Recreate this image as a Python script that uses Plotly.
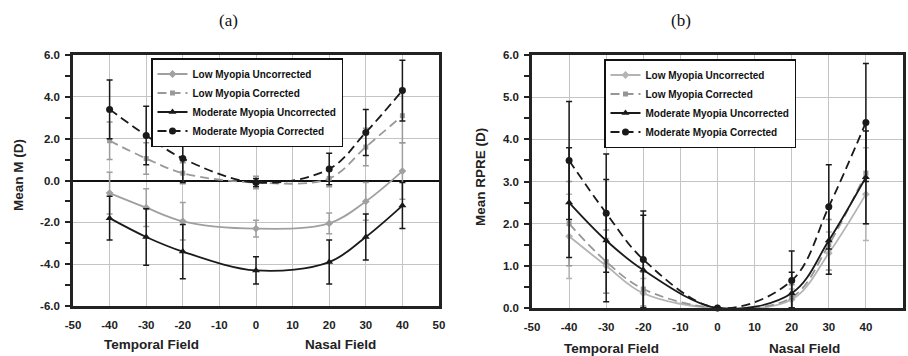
import plotly.graph_objects as go

W, H = 908, 356

# ---------------- data ----------------
angles = [-40, -30, -20, 0, 20, 30, 40]
series_names = ["Low Myopia Uncorrected", "Low Myopia Corrected",
                "Moderate Myopia Uncorrected", "Moderate Myopia Corrected"]

# panel (a): Mean M (D)
a_low_unc = [-0.6, -1.3, -1.95, -2.3, -2.05, -1.0, 0.45]
a_low_unc_err = [1.0, 0.9, 0.9, 0.4, 0.5, 0.9, 1.35]
a_low_cor = [1.9, 1.05, 0.35, -0.1, 0.1, 1.6, 3.1]
a_low_cor_err = [0.9, 0.75, 0.5, 0.3, 0.4, 0.9, 1.3]
a_mod_unc = [-1.8, -2.7, -3.4, -4.3, -3.9, -2.7, -1.2]
a_mod_unc_err = [1.05, 1.35, 1.3, 0.65, 1.05, 1.1, 1.1]
a_mod_cor = [3.4, 2.15, 1.05, -0.1, 0.55, 2.3, 4.3]
a_mod_cor_err = [1.4, 1.4, 1.15, 0.2, 0.75, 1.1, 1.45]

# panel (b): Mean RPRE (D)
b_low_unc = [1.7, 1.0, 0.35, 0.0, 0.2, 1.3, 2.7]
b_low_unc_err = [1.0, 0.65, 0.35, 0.0, 0.25, 0.5, 1.1]
b_low_cor = [2.0, 1.1, 0.45, 0.0, 0.25, 1.5, 3.2]
b_low_cor_err = [1.0, 0.75, 0.4, 0.0, 0.3, 0.6, 1.2]
b_mod_unc = [2.5, 1.6, 0.9, 0.0, 0.35, 1.6, 3.1]
b_mod_unc_err = [1.3, 1.45, 1.3, 0.0, 0.5, 0.8, 1.1]
b_mod_cor = [3.5, 2.25, 1.15, 0.0, 0.65, 2.4, 4.4]
b_mod_cor_err = [1.4, 1.4, 1.15, 0.0, 0.7, 1.0, 1.4]

x_tick_vals = [-50, -40, -30, -20, -10, 0, 10, 20, 30, 40, 50]
x_tick_text = ["-50", "-40", "-30", "-20", "-10", "0", "10", "20", "30", "40", "50"]
a_y_tick_vals = [-6, -4, -2, 0, 2, 4, 6]
a_y_tick_text = ["-6.0", "-4.0", "-2.0", "0.0", "2.0", "4.0", "6.0"]
b_y_tick_vals = [0, 1, 2, 3, 4, 5, 6]
b_y_tick_text = ["0.0", "1.0", "2.0", "3.0", "4.0", "5.0", "6.0"]

# ---------------- styles ----------------
def px(x):
    return x / W

def py(y):
    return 1 - y / H

DASH = "9px,5px"
a_styles = [
    dict(color="#a0a0a0", dash="solid", symbol="diamond", size=6),
    dict(color="#9a9a9a", dash=DASH, symbol="square", size=5),
    dict(color="#1a1a1a", dash="solid", symbol="triangle-up", size=7),
    dict(color="#1a1a1a", dash=DASH, symbol="circle", size=7),
]
b_styles = [
    dict(color="#b4b4b4", dash="solid", symbol="diamond", size=6),
    dict(color="#969696", dash=DASH, symbol="square", size=5),
    dict(color="#1a1a1a", dash="solid", symbol="triangle-up", size=7),
    dict(color="#1a1a1a", dash=DASH, symbol="circle", size=7),
]

fig = go.Figure()

a_sets = [(a_low_unc, a_low_unc_err), (a_low_cor, a_low_cor_err),
          (a_mod_unc, a_mod_unc_err), (a_mod_cor, a_mod_cor_err)]
b_sets = [(b_low_unc, b_low_unc_err), (b_low_cor, b_low_cor_err),
          (b_mod_unc, b_mod_unc_err), (b_mod_cor, b_mod_cor_err)]

for sets, styles, xa, ya, lg in [(a_sets, a_styles, "x", "y", "legend"),
                                 (b_sets, b_styles, "x2", "y2", "legend2")]:
    for name, (vals, errs), st in zip(series_names, sets, styles):
        lower = [min(e, v) if lg == "legend2" else e for v, e in zip(vals, errs)]
        fig.add_trace(go.Scatter(
            x=angles, y=vals, name=name, mode="lines+markers",
            xaxis=xa, yaxis=ya, legend=lg,
            line=dict(color=st["color"], width=1.8, dash=st["dash"],
                      shape="spline", smoothing=1),
            marker=dict(symbol=st["symbol"], size=st["size"], color=st["color"]),
            error_y=dict(type="data", array=errs, arrayminus=lower,
                         color=st["color"], thickness=1.5, width=3),
            cliponaxis=False,
        ))

tick_font = dict(family="Liberation Sans, Arial, sans-serif", size=11.5,
                 color="#222222", weight="bold")

def xaxis_cfg(domain, anchor):
    return dict(domain=domain, anchor=anchor, range=[-50, 50],
                tickmode="array", tickvals=x_tick_vals, ticktext=x_tick_text,
                showgrid=True, gridcolor="#c4c4c4", gridwidth=1,
                zeroline=False, showline=True, linecolor="#222222",
                linewidth=2.5, mirror=True, ticks="", tickfont=tick_font,
                ticklabelstandoff=6)

def yaxis_cfg(domain, anchor, rng, tv, tt, minor_dtick, minor_tick0, zl):
    return dict(domain=domain, anchor=anchor, range=rng,
                tickmode="array", tickvals=tv, ticktext=tt,
                showgrid=True, gridcolor="#c4c4c4", gridwidth=1,
                zeroline=zl, zerolinecolor="#111111", zerolinewidth=1.5,
                showline=True, linecolor="#222222", linewidth=2.5, mirror=True,
                ticks="outside", ticklen=5, tickwidth=1.5, tickcolor="#222222",
                minor=dict(tickmode="linear", tick0=minor_tick0, dtick=minor_dtick,
                           ticks="outside", ticklen=5, tickwidth=1.5,
                           tickcolor="#222222", showgrid=False),
                tickfont=tick_font, ticklabelstandoff=3)

legend_font = dict(family="Liberation Sans, Arial, sans-serif",
                   size=10, color="#111111", weight="bold")

fig.update_layout(
    width=W, height=H,
    margin=dict(l=0, r=0, t=0, b=0, pad=0, autoexpand=False),
    paper_bgcolor="white", plot_bgcolor="white",
    showlegend=True,
    xaxis=xaxis_cfg([px(73), px(439)], "y"),
    yaxis=yaxis_cfg([py(306), py(55)], "x", [-6, 6], a_y_tick_vals, a_y_tick_text, 1, -5, True),
    xaxis2=xaxis_cfg([px(532), px(903)], "y2"),
    yaxis2=yaxis_cfg([py(308), py(55)], "x2", [0, 6], b_y_tick_vals, b_y_tick_text, 0.5, 0, False),
    legend=dict(x=px(151), y=py(58), xanchor="left", yanchor="top",
                bgcolor="white", bordercolor="#111111", borderwidth=1.5,
                font=legend_font, tracegroupgap=0, itemwidth=30),
    legend2=dict(x=px(604), y=py(59), xanchor="left", yanchor="top",
                 bgcolor="white", bordercolor="#111111", borderwidth=1.5,
                 font=legend_font, tracegroupgap=0, itemwidth=30),
)

label_font = dict(family="Liberation Sans, Arial, sans-serif", size=13.5,
                  color="#222222", weight="bold")
title_font = dict(family="Liberation Serif, Times New Roman, serif", size=17, color="#111111")

annos = [
    dict(text="(a)", x=px(228), y=py(20), font=title_font),
    dict(text="(b)", x=px(681), y=py(20), font=title_font),
    dict(text="Temporal Field", x=px(151), y=py(344), font=label_font),
    dict(text="Nasal Field", x=px(340), y=py(344), font=label_font),
    dict(text="Temporal Field", x=px(611), y=py(348), font=label_font),
    dict(text="Nasal Field", x=px(804), y=py(348), font=label_font),
    dict(text="Mean M (D)", x=px(18), y=py(175), font=label_font, textangle=-90),
    dict(text="Mean RPRE (D)", x=px(481), y=py(177), font=label_font, textangle=-90),
]
for a in annos:
    fig.add_annotation(xref="paper", yref="paper", showarrow=False,
                       xanchor="center", yanchor="middle", **a)

fig.write_html("out.html",
               config={"displayModeBar": False},
               post_script="document.body.style.margin='0px';document.body.style.overflow='hidden';")
